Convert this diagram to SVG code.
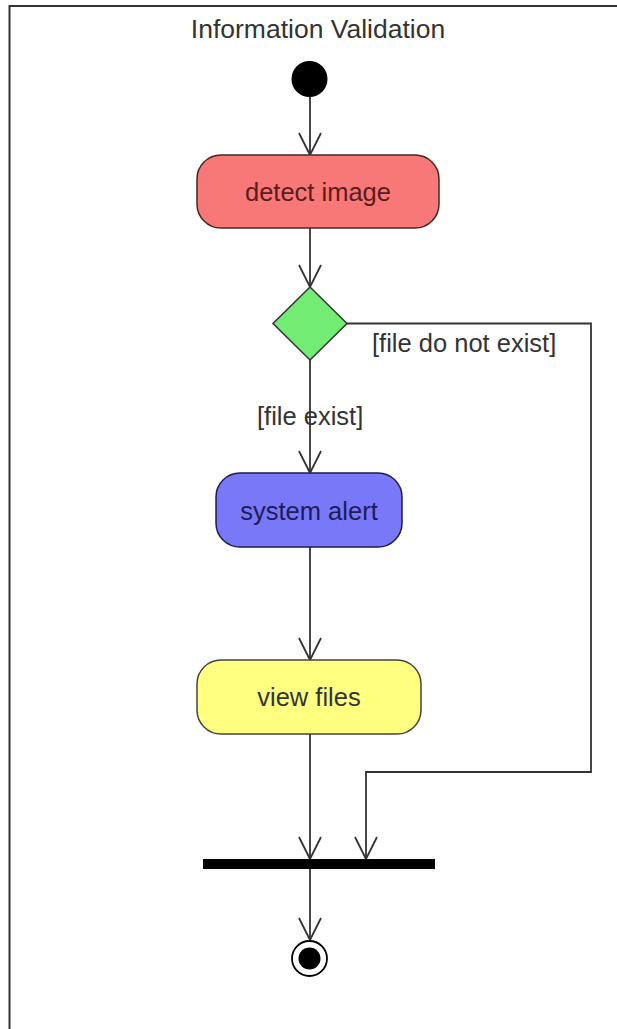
<svg xmlns="http://www.w3.org/2000/svg" width="617" height="1029" viewBox="0 0 617 1029">
  <style>
    .frame { fill: none; stroke: #333; stroke-width: 2; }
    .title { font-family: "Liberation Sans", Arial, sans-serif; font-size: 26.5px; fill: #333; text-anchor: middle; }
    .action { stroke-width: 1.5; }
    .label { font-family: "Liberation Sans", Arial, sans-serif; font-size: 25.5px; text-anchor: middle; }
    .guard { font-family: "Liberation Sans", Arial, sans-serif; font-size: 25.5px; fill: #333; }
    .flow { fill: none; stroke: #333; stroke-width: 1.8; marker-end: url(#open); }
  </style>
  <defs>
    <marker id="open" markerUnits="userSpaceOnUse" markerWidth="30" markerHeight="30" refX="24" refY="12" orient="auto" viewBox="0 0 30 24">
      <path d="M2,1 L24,12 L2,23" fill="none" stroke="#333" stroke-width="1.8"/>
    </marker>
  </defs>

  <rect fill="#fff" width="617" height="1029"/>

  <!-- activity frame: only its top and left edges lie inside the view -->
  <rect class="frame" x="9.5" y="6" width="700" height="1100"/>
  <text class="title" x="318" y="37.5">Information Validation</text>

  <g id="connectors">
    <line class="flow" x1="310" y1="97" x2="310" y2="155"/>
    <line class="flow" x1="310" y1="228" x2="310" y2="287"/>
    <line class="flow" x1="310" y1="360" x2="310" y2="473"/>
    <polyline class="flow" points="347,323.5 591,323.5 591,772 366,772 366,859"/>
    <line class="flow" x1="310" y1="547" x2="310" y2="660"/>
    <line class="flow" x1="310" y1="734" x2="310" y2="859"/>
    <line class="flow" x1="310" y1="869" x2="310" y2="940"/>
    <text class="guard" x="372" y="352">[file do not exist]</text>
    <text class="guard" x="257" y="425">[file exist]</text>
  </g>

  <g id="start">
    <circle cx="309.5" cy="79" r="18" fill="#000"/>
  </g>

  <g id="detect-image">
    <rect class="action" x="197" y="155" width="242" height="73" rx="24" fill="#F87878" stroke="#4a2424"/>
    <text class="label" x="318" y="201" fill="#5a1c1c">detect image</text>
  </g>

  <g id="decision">
    <polygon points="310,287 347,323.5 310,360 273,323.5" fill="#72EC72" stroke="#333" stroke-width="1.5"/>
  </g>

  <g id="system-alert">
    <rect class="action" x="216" y="473" width="186" height="74" rx="24" fill="#7878F8" stroke="#1e1e4a"/>
    <text class="label" x="309" y="519.5" fill="#1c1c5a">system alert</text>
  </g>

  <g id="view-files">
    <rect class="action" x="197" y="660" width="224" height="74" rx="24" fill="#FFFF80" stroke="#444"/>
    <text class="label" x="309" y="706" fill="#333">view files</text>
  </g>

  <g id="join">
    <rect x="203" y="859" width="232" height="10" fill="#000"/>
  </g>

  <g id="end">
    <circle cx="309.5" cy="958.5" r="17.5" fill="#fff" stroke="#000" stroke-width="1.8"/>
    <circle cx="309.5" cy="958.5" r="11" fill="#000"/>
  </g>
</svg>
